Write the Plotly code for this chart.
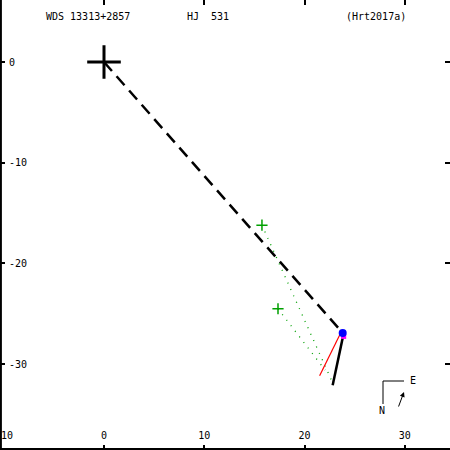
import plotly.graph_objects as go

# ---- data ----
primary_x = [0.0]
primary_y = [0.0]
pred_x = [23.8]
pred_y = [-26.9]
orbit_seg_x = [0.0, 23.8]
orbit_seg_y = [0.0, -26.9]
motion_x = [23.95, 22.8]
motion_y = [-26.7, -32.1]
red_x = [23.6, 21.5]
red_y = [-26.9, -31.15]
obs_x = [15.75, 17.35]
obs_y = [-16.2, -24.5]
obs_to_x = [22.75, 22.05]
obs_to_y = [-31.75, -30.6]
xticks = [-10, 0, 10, 20, 30]
xtick_text = ["-10", "0", "10", "20", "30"]
yticks = [0, -10, -20, -30]
ytick_text = ["0", "-10", "-20", "-30"]

FONT = "DejaVu Sans Mono"
fig = go.Figure()

# dashed line primary -> predicted position
fig.add_trace(go.Scatter(x=orbit_seg_x, y=orbit_seg_y, mode="lines",
                         line=dict(color="black", width=2.5, dash="12px,7px"),
                         hoverinfo="skip"))
# dotted residual lines
for i in range(len(obs_x)):
    fig.add_trace(go.Scatter(x=[obs_x[i], obs_to_x[i]], y=[obs_y[i], obs_to_y[i]],
                             mode="lines",
                             line=dict(color="#00a000", width=1.3, dash="1px,6px")))
# motion line (black solid)
fig.add_trace(go.Scatter(x=motion_x, y=motion_y, mode="lines",
                         line=dict(color="black", width=2.5)))
# red line
fig.add_trace(go.Scatter(x=red_x, y=red_y, mode="lines",
                         line=dict(color="red", width=1.2)))
# observations
fig.add_trace(go.Scatter(x=obs_x, y=obs_y, mode="markers",
                         marker=dict(symbol="cross-thin", size=8,
                                     line=dict(color="#00a000", width=1.5))))
# magenta + blue markers
fig.add_trace(go.Scatter(x=[pred_x[0] + 0.1], y=[pred_y[0] - 0.35], mode="markers",
                         marker=dict(symbol="square", size=5, color="#ff00ff")))
fig.add_trace(go.Scatter(x=pred_x, y=pred_y, mode="markers",
                         marker=dict(symbol="circle", size=8, color="#0000ff")))
# primary
fig.add_trace(go.Scatter(x=primary_x, y=primary_y, mode="markers",
                         marker=dict(symbol="cross-thin", size=24,
                                     line=dict(color="black", width=3))))

axis_common = dict(showgrid=False, zeroline=False, ticks="inside", ticklen=5,
                   tickwidth=1.5, tickcolor="black", mirror="ticks",
                   showline=False, ticklabelposition="inside",
                   ticklabelstandoff=3,
                   tickfont=dict(family=FONT, size=10, color="black"))
fig.update_xaxes(range=[-10.37, 34.5], tickvals=xticks, ticktext=xtick_text,
                 **axis_common)
fig.update_yaxes(range=[-38.53, 6.16], tickvals=yticks, ticktext=ytick_text,
                 **axis_common)

shapes = [
    dict(type="line", xref="paper", yref="paper", x0=0.002, x1=0.002, y0=0, y1=1,
         line=dict(color="black", width=2)),
    dict(type="line", xref="paper", yref="paper", x0=0, x1=1, y0=0.002, y1=0.002,
         line=dict(color="black", width=2)),
    # compass
    dict(type="line", xref="paper", yref="paper", x0=383/450, x1=404/450,
         y0=1-381/450, y1=1-381/450, line=dict(color="black", width=1)),
    dict(type="line", xref="paper", yref="paper", x0=383/450, x1=383/450,
         y0=1-381/450, y1=1-404/450, line=dict(color="black", width=1)),
]

tf = dict(family=FONT, size=10, color="black")
annotations = [
    # leftmost x tick label (partly beyond the left edge, as in the reference)
    dict(text=xtick_text[0], x=xticks[0], y=1-435/450, xref="x", yref="paper",
         xanchor="center", yanchor="middle", showarrow=False, font=tf),
    dict(text="WDS 13313+2857", x=44/450, y=1-16/450, xref="paper", yref="paper",
         xanchor="left", yanchor="middle", showarrow=False, font=tf),
    dict(text="HJ\u00a0\u00a0531", x=185/450, y=1-16/450, xref="paper", yref="paper",
         xanchor="left", yanchor="middle", showarrow=False, font=tf),
    dict(text="(Hrt2017a)", x=344/450, y=1-16/450, xref="paper", yref="paper",
         xanchor="left", yanchor="middle", showarrow=False, font=tf),
    dict(text="E", x=413/450, y=1-380/450, xref="paper", yref="paper",
         xanchor="center", yanchor="middle", showarrow=False, font=tf),
    dict(text="N", x=382/450, y=1-410/450, xref="paper", yref="paper",
         xanchor="center", yanchor="middle", showarrow=False, font=tf),
    dict(text="", x=404/450, y=1-392/450, xref="paper", yref="paper",
         ax=-6, ay=16, showarrow=True, arrowhead=2, arrowsize=1, arrowwidth=1,
         arrowcolor="black"),
]

fig.update_layout(width=450, height=450, margin=dict(l=0, r=0, t=0, b=0),
                  paper_bgcolor="white", plot_bgcolor="white", showlegend=False,
                  shapes=shapes, annotations=annotations)
fig.write_html("out.html", config={"displayModeBar": False},
               post_script="document.body.style.margin='0';document.body.style.overflow='hidden';")
